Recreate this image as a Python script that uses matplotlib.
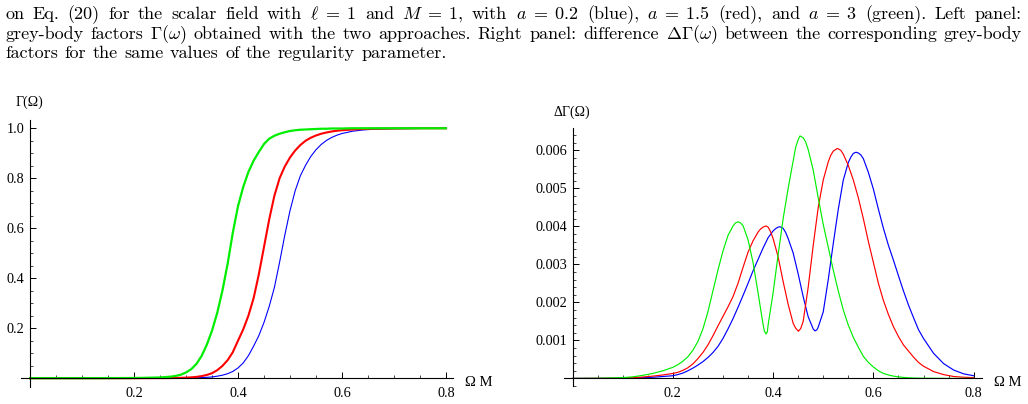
import matplotlib
matplotlib.use("Agg")
import matplotlib.pyplot as plt
from matplotlib.ticker import FixedLocator, MultipleLocator, FormatStrFormatter

W, H = 1028, 404

# left panel: grey-body factors Gamma(Omega)
gb_x = [0.00, 0.10, 0.20, 0.22, 0.24, 0.25, 0.26, 0.27, 0.28, 0.29, 0.30, 0.31, 0.32,
        0.33, 0.34, 0.35, 0.36, 0.37, 0.38, 0.39, 0.40, 0.41, 0.42, 0.43, 0.44, 0.45,
        0.46, 0.47, 0.48, 0.49, 0.50, 0.51, 0.52, 0.53, 0.54, 0.55, 0.56, 0.57, 0.58,
        0.59, 0.60, 0.62, 0.64, 0.66, 0.70, 0.75, 0.80]
gb_green = [0.0, 0.0, 0.0008, 0.0015, 0.0025, 0.003, 0.0045, 0.006, 0.009, 0.014, 0.023,
            0.036, 0.057, 0.089, 0.134, 0.19, 0.261, 0.35, 0.457, 0.582, 0.688, 0.765,
            0.825, 0.87, 0.905, 0.937, 0.958, 0.97, 0.978, 0.984, 0.989, 0.992, 0.994,
            0.995, 0.996, 0.997, 0.998, 0.998, 0.999, 0.999, 0.999, 1.0, 1.0, 1.0, 1.0,
            1.0, 1.0]
gb_red = [0.0, 0.0, 0.0001, 0.0002, 0.0003, 0.0003, 0.0004, 0.0006, 0.0009, 0.0014,
          0.0022, 0.0034, 0.0053, 0.0083, 0.013, 0.02, 0.032, 0.049, 0.072, 0.104, 0.15,
          0.195, 0.25, 0.32, 0.415, 0.525, 0.635, 0.73, 0.80, 0.847, 0.883, 0.911, 0.933,
          0.95, 0.962, 0.971, 0.978, 0.983, 0.987, 0.99, 0.992, 0.995, 0.997, 0.998,
          0.999, 1.0, 1.0]
gb_blue = [0.0, 0.0, 0.0001, 0.0002, 0.0003, 0.0003, 0.0004, 0.0005, 0.0006, 0.0008,
           0.001, 0.0013, 0.0018, 0.0025, 0.0035, 0.005, 0.008, 0.012, 0.018, 0.027,
           0.041, 0.061, 0.09, 0.128, 0.17, 0.223, 0.287, 0.363, 0.464, 0.572, 0.67,
           0.75, 0.81, 0.852, 0.887, 0.914, 0.935, 0.951, 0.963, 0.972, 0.979, 0.988,
           0.993, 0.996, 0.998, 0.999, 1.0]

# right panel: Delta Gamma(Omega), in units of 1e-3
dg_x = [0.00, 0.05, 0.10, 0.12, 0.14, 0.16, 0.18, 0.20, 0.21, 0.22, 0.23, 0.24, 0.25,
        0.26, 0.27, 0.28, 0.29, 0.30, 0.31, 0.32, 0.33, 0.34, 0.35, 0.36, 0.37, 0.38,
        0.39, 0.40, 0.41, 0.42, 0.43, 0.44, 0.45, 0.46, 0.47, 0.48, 0.49, 0.50, 0.51,
        0.52, 0.53, 0.54, 0.55, 0.56, 0.57, 0.58, 0.59, 0.60, 0.61, 0.62, 0.63, 0.64,
        0.65, 0.66, 0.67, 0.68, 0.69, 0.70, 0.72, 0.74, 0.76, 0.78, 0.80]
dg_green = [0.0, 0.003, 0.02, 0.04, 0.08, 0.13, 0.20, 0.29, 0.36, 0.45, 0.57, 0.74, 0.97,
            1.30, 1.75, 2.30, 2.85, 3.35, 3.76, 4.01, 4.12, 4.02, 3.65, 3.05, 2.25, 1.42,
            1.40, 2.25, 3.25, 4.20, 5.00, 5.72, 6.28, 6.33, 6.02, 5.48, 4.75, 4.05, 3.45,
            2.85, 2.30, 1.80, 1.40, 1.08, 0.82, 0.58, 0.42, 0.30, 0.20, 0.13, 0.09, 0.06,
            0.04, 0.025, 0.016, 0.01, 0.007, 0.005, 0.003, 0.001, 0.0, 0.0, 0.0]
dg_red = [0.0, 0.002, 0.01, 0.02, 0.035, 0.06, 0.09, 0.13, 0.16, 0.21, 0.28, 0.38, 0.52,
          0.68, 0.88, 1.12, 1.38, 1.63, 1.88, 2.15, 2.50, 2.92, 3.32, 3.62, 3.85, 3.98,
          3.98, 3.68, 3.20, 2.55, 1.95, 1.45, 1.25, 1.50, 2.40, 3.50, 4.50, 5.22, 5.70,
          5.98, 6.04, 5.90, 5.60, 5.22, 4.75, 4.20, 3.60, 3.05, 2.50, 2.05, 1.68, 1.36,
          1.10, 0.88, 0.72, 0.56, 0.42, 0.32, 0.18, 0.10, 0.05, 0.03, 0.02]
dg_blue = [0.0, 0.001, 0.005, 0.01, 0.02, 0.03, 0.05, 0.07, 0.10, 0.14, 0.20, 0.27, 0.35,
           0.44, 0.55, 0.68, 0.84, 1.05, 1.30, 1.57, 1.87, 2.18, 2.50, 2.83, 3.13, 3.43,
           3.70, 3.88, 3.98, 3.95, 3.68, 3.30, 2.75, 2.15, 1.62, 1.30, 1.35, 1.75, 2.60,
           3.55, 4.45, 5.22, 5.68, 5.92, 5.93, 5.78, 5.42, 4.98, 4.45, 3.95, 3.50, 3.11,
           2.70, 2.30, 1.93, 1.60, 1.28, 1.05, 0.66, 0.39, 0.22, 0.12, 0.07]
# extra points read around the peaks and dips
dg_green_ext_x = [0.325, 0.335, 0.3825, 0.3858, 0.3885, 0.445, 0.4536, 0.465]
dg_green_ext_y = [4.09, 4.09, 1.25, 1.17, 1.22, 6.08, 6.38, 6.22]
dg_red_ext_x = [0.375, 0.3858, 0.395, 0.445, 0.4503, 0.455, 0.515, 0.528, 0.535]
dg_red_ext_y = [3.93, 4.01, 3.86, 1.32, 1.24, 1.31, 5.87, 6.05, 6.00]
dg_blue_ext_x = [0.405, 0.4138, 0.425, 0.4836, 0.4875, 0.555, 0.5653, 0.575]
dg_blue_ext_y = [3.94, 3.99, 3.84, 1.25, 1.28, 5.82, 5.95, 5.88]

caption = [
    ["on", "Eq.", "(20)", "for", "the", "scalar", "field", "with", r"$\ell\;=\;1$", "and",
     r"$M\;=\;1$,", "with", r"$a\;=\;0.2$", "(blue),", r"$a\;=\;1.5$", "(red),", "and",
     r"$a\;=\;3$", "(green).", "Left", "panel:"],
    ["grey-body", "factors", r"$\Gamma(\omega)$", "obtained", "with", "the", "two",
     "approaches.", "Right", "panel:", "difference", r"$\Delta\Gamma(\omega)$", "between",
     "the", "corresponding", "grey-body"],
    ["factors", "for", "the", "same", "values", "of", "the", "regularity", "parameter."],
]

BLUE, RED, GREEN = "#0000ff", "#ff0000", "#00ee00"

plt.rcParams["font.family"] = ["Liberation Serif", "DejaVu Serif"]
plt.rcParams["mathtext.fontset"] = "cm"

fig = plt.figure(figsize=(W / 100, H / 100), dpi=100)


def merged(xs, ys, ex, ey):
    pts = sorted(zip(list(xs) + ex, list(ys) + ey))
    return [p[0] for p in pts], [p[1] * 1e-3 for p in pts]


def style(ax, xlim, ylim, yticks, yminor, yfmt):
    ax.set_xlim(*xlim)
    ax.set_ylim(*ylim)
    ax.patch.set_visible(False)
    for s in ["top", "right"]:
        ax.spines[s].set_visible(False)
    for s in ["left", "bottom"]:
        ax.spines[s].set_position(("data", 0))
        ax.spines[s].set_linewidth(0.8)
    ax.xaxis.set_major_locator(FixedLocator([0.2, 0.4, 0.6, 0.8]))
    ax.xaxis.set_minor_locator(MultipleLocator(0.05))
    ax.xaxis.set_major_formatter(FormatStrFormatter("%.1f"))
    ax.yaxis.set_major_locator(FixedLocator(yticks))
    ax.yaxis.set_minor_locator(MultipleLocator(yminor))
    ax.yaxis.set_major_formatter(FormatStrFormatter(yfmt))
    ax.tick_params(which="both", direction="in", colors="black", labelsize=10.3)
    ax.tick_params(axis="x", pad=6)
    ax.tick_params(axis="y", pad=4)
    ax.tick_params(which="major", length=4, width=0.7)
    ax.tick_params(which="minor", length=2.2, width=0.5)


# left panel
ax1 = fig.add_axes([20.7 / W, (H - 386.7) / H, 432 / W, 266.7 / H])
ax1.plot(gb_x, gb_blue, color=BLUE, lw=0.8)
ax1.plot(gb_x, gb_red, color=RED, lw=1.5)
ax1.plot(gb_x, gb_green, color=GREEN, lw=1.6)
style(ax1, (-0.018, 0.813), (-0.034, 1.033), [0.2, 0.4, 0.6, 0.8, 1.0], 0.05, "%.1f")

# right panel
ax2 = fig.add_axes([564.3 / W, (H - 386) / H, 417.4 / W, 257.7 / H])
bx, by = merged(dg_x, dg_blue, dg_blue_ext_x, dg_blue_ext_y)
rx, ry = merged(dg_x, dg_red, dg_red_ext_x, dg_red_ext_y)
gx, gy = merged(dg_x, dg_green, dg_green_ext_x, dg_green_ext_y)
ax2.plot(bx, by, color=BLUE, lw=0.85)
ax2.plot(rx, ry, color=RED, lw=0.85)
ax2.plot(gx, gy, color=GREEN, lw=0.85)
style(ax2, (-0.0164, 0.816), (-0.0002, 0.00658),
      [0.001, 0.002, 0.003, 0.004, 0.005, 0.006], 0.0002, "%.3f")

# axis labels, Mathematica style
fig.text(29 / W, 1 - 102 / H, "Γ(Ω)", ha="center", va="center", fontsize=10)
fig.text(572 / W, 1 - 112 / H, "ΔΓ(Ω)", ha="center", va="center", fontsize=10)
fig.text(479 / W, 1 - 382 / H, "Ω M", ha="center", va="center", fontsize=10.5)
fig.text(1008 / W, 1 - 382 / H, "Ω M", ha="center", va="center", fontsize=10.5)

# caption text, justified like the paper
renderer = fig.canvas.get_renderer()


def caption_line(words, y_px, x0, x1=None, size=13):
    texts = [fig.text(0, 1 - y_px / H, w, fontsize=size, family="cmr10", va="baseline")
             for w in words]
    widths = [t.get_window_extent(renderer).width for t in texts]
    if x1 is None:
        gap = size * 100 / 72 * 0.36
    else:
        gap = (x1 - x0 - sum(widths)) / (len(words) - 1)
    x = x0
    for t, w in zip(texts, widths):
        t.set_x(x / W)
        x += w + gap


caption_line(caption[0], 19, 5, 1022)
caption_line(caption[1], 39, 5, 1022)
caption_line(caption[2], 58, 5)

fig.savefig("out.png", dpi=100)
